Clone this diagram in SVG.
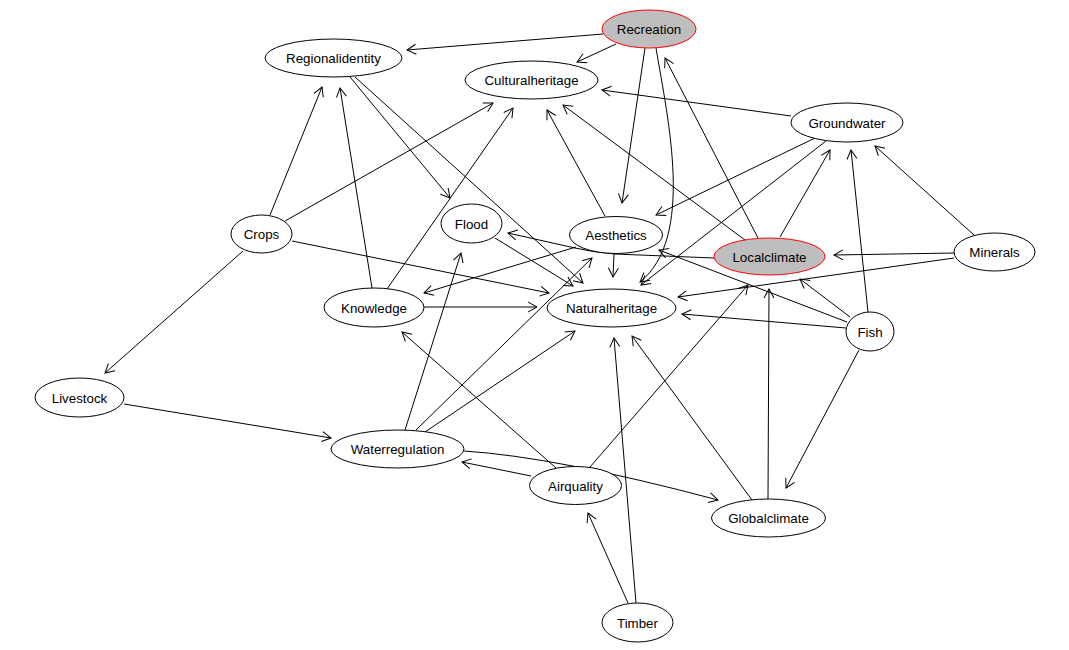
<svg xmlns="http://www.w3.org/2000/svg" width="1069" height="650" viewBox="0 0 1069 650">
<style>
.e{fill:none;stroke:#000;stroke-width:1;marker-end:url(#arr)}
.n ellipse{fill:#fff;stroke:#000;stroke-width:1}
.n.h ellipse{fill:#bebebe;stroke:#ff0000}
.n text{font-family:"Liberation Sans",Arial,sans-serif;font-size:13.33px;fill:#000;text-anchor:middle}
</style>
<defs>
<marker id="arr" viewBox="-10 -6 11 12" refX="0" refY="0" markerWidth="11" markerHeight="12" markerUnits="userSpaceOnUse" orient="auto">
<path d="M-9,-5 L0,0 L-9,5" fill="none" stroke="#000" stroke-width="1"/>
</marker>
</defs>
<rect width="1069" height="650" fill="#fff"/>
<g id="connectors">
<path class="e" d="M603,34 L407,50"/>
<path class="e" d="M616,44 L577,62"/>
<path class="e" d="M645,48 L622,203"/>
<path class="e" d="M656,48 C668,120 695,238 640,282"/>
<path class="e" d="M758,238 L665,58"/>
<path class="e" d="M791,116 L602,90"/>
<path class="e" d="M815,138 L656,215"/>
<path class="e" d="M826,141 L641,285"/>
<path class="e" d="M780,237 L830,150"/>
<path class="e" d="M868,312 L851,150"/>
<path class="e" d="M974,235 L875,146"/>
<path class="e" d="M954,253 L834,255"/>
<path class="e" d="M954,258 L678,297"/>
<path class="e" d="M850,317 L800,279"/>
<path class="e" d="M847,322 L659,250"/>
<path class="e" d="M846,328 L682,314"/>
<path class="e" d="M859,350 L786,488"/>
<path class="e" d="M714,258 L615,254 Q592,252 575,248 L508,233"/>
<path class="e" d="M745,240 L563,105"/>
<path class="e" d="M768,499 L769,289"/>
<path class="e" d="M752,500 L632,336"/>
<path class="e" d="M590,467 L748,285"/>
<path class="e" d="M531,476 L462,462"/>
<path class="e" d="M556,468 L402,332"/>
<path class="e" d="M464,451 Q557,457 718,500"/>
<path class="e" d="M405,430 L461,253"/>
<path class="e" d="M416,430 L592,258"/>
<path class="e" d="M425,432 L575,331"/>
<path class="e" d="M124,404 L331,438"/>
<path class="e" d="M243,251 L105,373"/>
<path class="e" d="M270,215 L322,87"/>
<path class="e" d="M285,221 L493,103"/>
<path class="e" d="M292,241 L549,293"/>
<path class="e" d="M372,288 L340,88"/>
<path class="e" d="M387,289 L513,108"/>
<path class="e" d="M424,307 L537,307"/>
<path class="e" d="M350,77 L450,198"/>
<path class="e" d="M355,77 L583,283"/>
<path class="e" d="M605,216 L547,110"/>
<path class="e" d="M614,254 L613,277"/>
<path class="e" d="M576,247 L424,293"/>
<path class="e" d="M495,238 L573,286"/>
<path class="e" d="M628,603 L588,513"/>
<path class="e" d="M636,603 L614,338"/>
</g>
<g id="Recreation" class="n h"><ellipse cx="649" cy="29" rx="47" ry="19"/><text x="649" y="34">Recreation</text></g>
<g id="Regionalidentity" class="n"><ellipse cx="333.5" cy="58" rx="68.5" ry="19"/><text x="333.5" y="63">Regionalidentity</text></g>
<g id="Culturalheritage" class="n"><ellipse cx="531.5" cy="80" rx="66.5" ry="19"/><text x="531.5" y="85">Culturalheritage</text></g>
<g id="Groundwater" class="n"><ellipse cx="847" cy="122.5" rx="56" ry="19.5"/><text x="847" y="127.5">Groundwater</text></g>
<g id="Crops" class="n"><ellipse cx="261.5" cy="234" rx="30.5" ry="19"/><text x="261.5" y="239">Crops</text></g>
<g id="Flood" class="n"><ellipse cx="471.5" cy="223.5" rx="30.5" ry="19.5"/><text x="471.5" y="228.5">Flood</text></g>
<g id="Aesthetics" class="n"><ellipse cx="616" cy="235" rx="46.5" ry="18.5"/><text x="616" y="240">Aesthetics</text></g>
<g id="Localclimate" class="n h"><ellipse cx="769.5" cy="256.5" rx="55.5" ry="18.5"/><text x="769.5" y="261.5">Localclimate</text></g>
<g id="Minerals" class="n"><ellipse cx="994.5" cy="252" rx="40.5" ry="19"/><text x="994.5" y="257">Minerals</text></g>
<g id="Knowledge" class="n"><ellipse cx="374" cy="307.5" rx="50" ry="19.5"/><text x="374" y="312.5">Knowledge</text></g>
<g id="Naturalheritage" class="n"><ellipse cx="611.5" cy="308" rx="64.5" ry="19"/><text x="611.5" y="313">Naturalheritage</text></g>
<g id="Fish" class="n"><ellipse cx="870" cy="331.5" rx="24" ry="19.5"/><text x="870" y="336.5">Fish</text></g>
<g id="Livestock" class="n"><ellipse cx="79.5" cy="397.5" rx="44.5" ry="19.5"/><text x="79.5" y="402.5">Livestock</text></g>
<g id="Waterregulation" class="n"><ellipse cx="397.5" cy="449" rx="66.5" ry="19"/><text x="397.5" y="454">Waterregulation</text></g>
<g id="Airquality" class="n"><ellipse cx="575.5" cy="485.5" rx="46" ry="19"/><text x="575.5" y="490.5">Airquality</text></g>
<g id="Globalclimate" class="n"><ellipse cx="768.5" cy="518" rx="57" ry="19"/><text x="768.5" y="523">Globalclimate</text></g>
<g id="Timber" class="n"><ellipse cx="637.5" cy="622.5" rx="35.5" ry="19.5"/><text x="637.5" y="627.5">Timber</text></g>
</svg>
